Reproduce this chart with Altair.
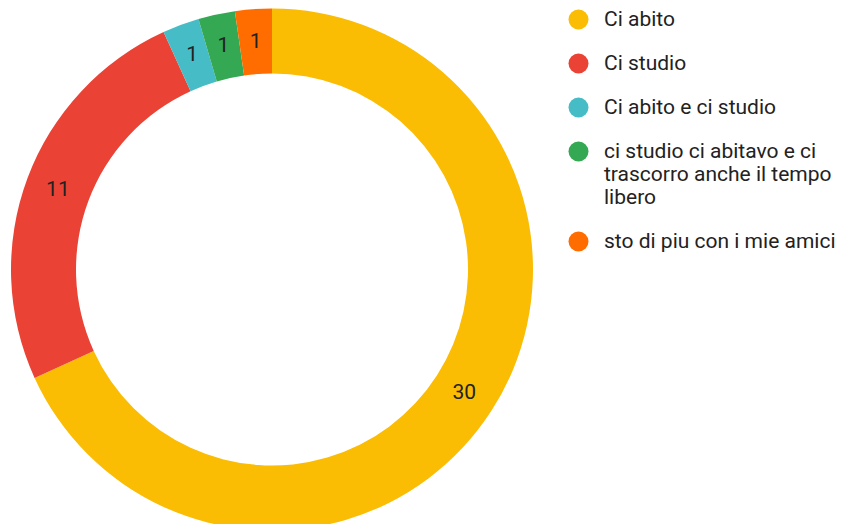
import altair as alt
import pandas as pd

categories = [
    "Ci abito",
    "Ci studio",
    "Ci abito e ci studio",
    "ci studio ci abitavo e ci trascorro anche il tempo libero",
    "sto di piu con i mie amici",
]
values = [30, 11, 1, 1, 1]
colors = ["#fbbc04", "#ea4335", "#46bdc6", "#34a853", "#ff6d01"]

df = pd.DataFrame({"cat": categories, "value": values, "order": list(range(len(values)))})

cx, cy = 264, 261.5
outer, inner = 261, 196

color = alt.Color(
    "cat:N",
    scale=alt.Scale(domain=categories, range=colors),
    sort=categories,
    legend=alt.Legend(
        title=None,
        orient="none",
        legendX=560,
        legendY=1,
        symbolType="circle",
        symbolSize=400,
        symbolStrokeWidth=0,
        labelFont="Roboto",
        labelFontSize=21,
        labelColor="#222222",
        labelOffset=15,
        rowPadding=22,
        labelLimit=400,
        padding=0,
        labelExpr="datum.label == 'ci studio ci abitavo e ci trascorro anche il tempo libero' ? ['ci studio ci abitavo e ci', 'trascorro anche il tempo', 'libero'] : datum.label",
    ),
)

base = alt.Chart(df).encode(
    theta=alt.Theta("value:Q", stack=True),
    order=alt.Order("order:Q"),
)

arcs = base.mark_arc(outerRadius=outer, innerRadius=inner, x=cx, y=cy, stroke=None).encode(color=color)

labels = base.mark_text(
    radius=(outer + inner) / 2, x=cx, y=cy, font="Roboto", fontSize=21, color="#222222"
).encode(text="value:Q")

chart = (
    alt.layer(arcs, labels)
    .properties(width=830, height=516, padding=0, autosize="none")
    .configure_view(stroke=None)
)

chart.save("out.html", embed_options={"renderer": "svg", "actions": False})
